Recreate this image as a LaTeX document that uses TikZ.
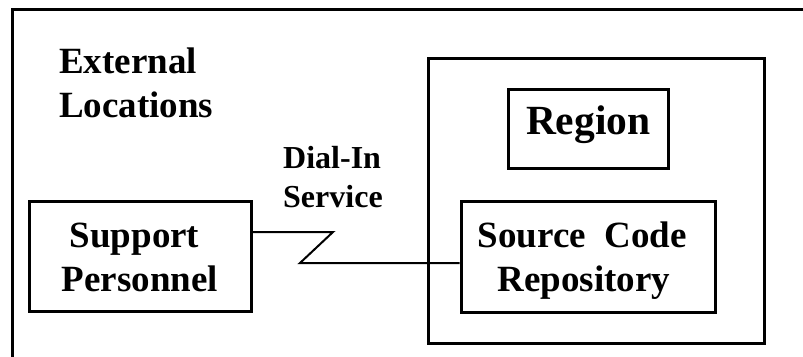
\documentclass[tikz,border=0pt]{standalone}
\usepackage{fontspec}
\setmainfont{Liberation Serif}
\begin{document}
\begin{tikzpicture}[x=1pt,y=-1pt,
  frame/.style={line width=3pt},
  box/.style={draw,line width=3pt,inner sep=0pt,align=center},
  twoline/.style={font=\bfseries\fontsize{37}{44}\selectfont,text height=70pt,text depth=0pt},
  caption/.style={inner sep=0pt,align=left,anchor=north west,text depth=0pt},
  wire/.style={line width=2pt}]
\useasboundingbox (0,0) rectangle (803,356);
% open outer frame
\draw[frame] (805,9.5) -- (12.5,9.5) -- (12.5,360);
% boxes
\node[box,minimum width=335.5pt,minimum height=285pt] (region) at (596.25,200.8) {};
\node[box,minimum width=159.5pt,minimum height=78.3pt,
  font=\bfseries\fontsize{41.5}{48}\selectfont,text height=22pt,text depth=10pt]
  (regionlabel) at (588.25,128.85) {Region};
\node[box,twoline,minimum width=222pt,minimum height=110.2pt] (support) at (140,256.6)
  {Support\kern11pt\\Personnel};
\node[box,twoline,minimum width=254.7pt,minimum height=110.7pt] (repo) at (588.35,256.65)
  {Source\ \ Code\kern12pt\\Repository\kern9pt};
% captions
\node[caption,font=\bfseries\fontsize{37}{44}\selectfont,text height=70pt] (ext) at (59,47.5)
  {External\\Locations};
\node[caption,font=\bfseries\fontsize{32}{39}\selectfont,text height=61pt] (dial) at (283,146)
  {Dial-In\\Service};
% dial-in link
\coordinate (kinkA) at (333,232);
\coordinate (kinkB) at (300,263);
\draw[wire] (support.east |- kinkA) -- (kinkA) -- (kinkB) -- (repo.west |- kinkB);
\end{tikzpicture}
\end{document}
